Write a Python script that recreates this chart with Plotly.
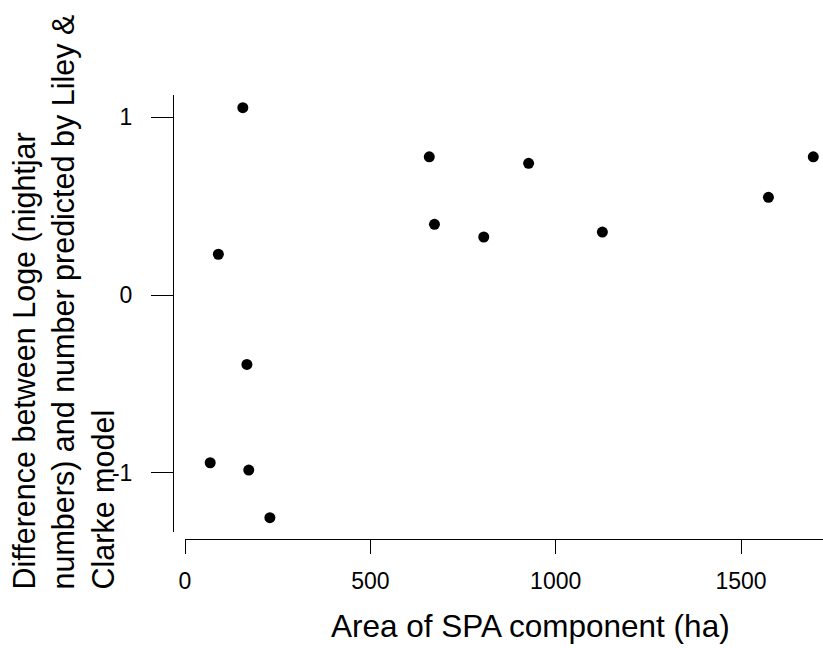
import plotly.graph_objects as go

# ---- data ----
area_ha = [156, 90, 167, 68, 172, 229, 659, 673, 806, 927, 1126, 1574, 1695]
diff_loge = [1.053, 0.229, -0.390, -0.943, -0.984, -1.252, 0.777, 0.397, 0.326, 0.740, 0.354, 0.549, 0.777]
x_ticks = [0, 500, 1000, 1500]
y_ticks = [-1, 0, 1]
x_title = "Area of SPA component (ha)"
y_title = "Difference between Loge (nightjar<br>numbers) and number predicted by Liley &<br>Clarke model"

W, H = 823, 648
L, R, T, B = 173, 0, 95, 109
PW, PH = W - L - R, H - T - B

def px_x(p):
    return (p - L) / PW

def px_y(p):
    return (H - B - p) / PH

# pixel scale
x0_px, x_per = 185.0, 0.37067
y0_px, y_per = 295.0, 177.9
x_range = [0, (W - R - x0_px) / x_per]
y_top_px, y_bot_px = 95.0, 532.0
y_range = [(y0_px - y_bot_px) / y_per, (y0_px - y_top_px) / y_per]

font_family = "Liberation Sans, Arial, sans-serif"

fig = go.Figure()
fig.add_trace(go.Scatter(
    x=area_ha, y=diff_loge, mode="markers",
    marker=dict(size=11, color="black"),
    cliponaxis=False, showlegend=False,
))

fig.update_layout(
    width=W, height=H,
    margin=dict(l=L, r=R, t=T, b=B, pad=0),
    paper_bgcolor="white", plot_bgcolor="white",
    font=dict(family=font_family, color="black"),
    xaxis=dict(
        domain=[px_x(x0_px), 1], range=x_range,
        anchor="free", position=0,
        showgrid=False, zeroline=False,
        showline=True, linecolor="black", linewidth=1,
        ticks="outside", ticklen=14, tickwidth=1, tickcolor="black",
        tickvals=x_ticks, ticktext=[str(v) for v in x_ticks],
        tickfont=dict(size=23, family=font_family, color="black"),
        ticklabelstandoff=7,
    ),
    yaxis=dict(
        domain=[px_y(y_bot_px), 1], range=y_range,
        anchor="free", position=0,
        showgrid=False, zeroline=False,
        showline=True, linecolor="black", linewidth=1,
        ticks="outside", ticklen=22, tickwidth=1, tickcolor="black",
        tickvals=y_ticks, ticktext=[str(v) for v in y_ticks],
        tickfont=dict(size=23, family=font_family, color="black"),
        ticklabelstandoff=14,
    ),
    annotations=[
        dict(text=x_title, xref="paper", yref="paper",
             x=px_x(530), y=px_y(626), xanchor="center", yanchor="middle",
             showarrow=False, font=dict(size=31.5, family=font_family, color="black")),
        dict(text=y_title, xref="paper", yref="paper", textangle=-90, align="left",
             x=px_x(63), y=px_y(592), xanchor="center", yanchor="bottom",
             showarrow=False, font=dict(size=30.5, family=font_family, color="black")),
    ],
)

fig.write_html("out.html")
